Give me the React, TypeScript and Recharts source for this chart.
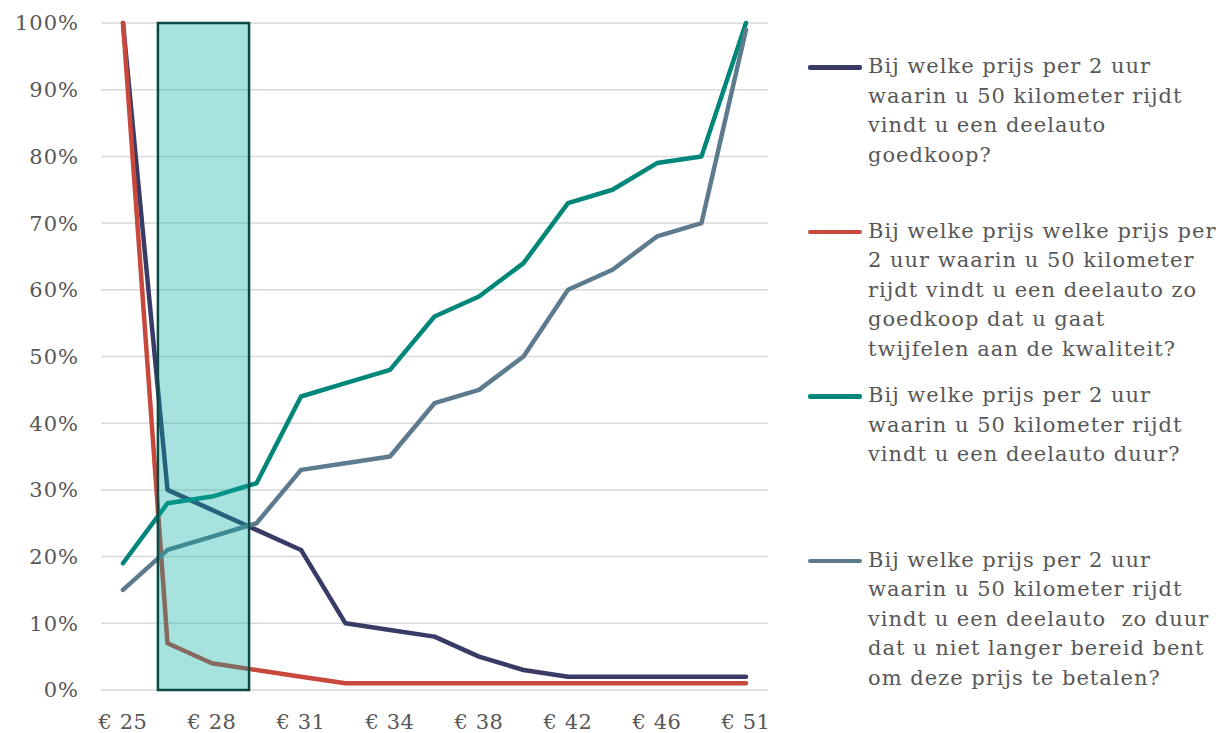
import { CartesianGrid, Line, LineChart, ReferenceArea, XAxis, YAxis } from "recharts"

const prices = [
  "€ 25", "€ 27", "€ 28", "€ 30", "€ 31", "€ 33", "€ 34", "€ 36",
  "€ 38", "€ 40", "€ 42", "€ 44", "€ 46", "€ 48", "€ 51",
]

const goedkoop = [100, 30, 27, 24, 21, 10, 9, 8, 5, 3, 2, 2, 2, 2, 2]
const teGoedkoop = [100, 7, 4, 3, 2, 1, 1, 1, 1, 1, 1, 1, 1, 1, 1]
const duur = [19, 28, 29, 31, 44, 46, 48, 56, 59, 64, 73, 75, 79, 80, 100]
const teDuur = [15, 21, 23, 25, 33, 34, 35, 43, 45, 50, 60, 63, 68, 70, 99]

const yTicks = [0, 10, 20, 30, 40, 50, 60, 70, 80, 90, 100]

// acceptable price range box, in category-index units
const boxFrom = 0.78
const boxTo = 2.83

const series = [
  {
    key: "goedkoop",
    color: "#383B66",
    lines: ["Bij welke prijs per 2 uur", "waarin u 50 kilometer rijdt", "vindt u een deelauto", "goedkoop?"],
  },
  {
    key: "teGoedkoop",
    color: "#C9483C",
    lines: [
      "Bij welke prijs welke prijs per",
      "2 uur waarin u 50 kilometer",
      "rijdt vindt u een deelauto zo",
      "goedkoop dat u gaat",
      "twijfelen aan de kwaliteit?",
    ],
  },
  {
    key: "duur",
    color: "#00877A",
    lines: ["Bij welke prijs per 2 uur", "waarin u 50 kilometer rijdt", "vindt u een deelauto duur?"],
  },
  {
    key: "teDuur",
    color: "#5E7A8E",
    lines: [
      "Bij welke prijs per 2 uur",
      "waarin u 50 kilometer rijdt",
      "vindt u een deelauto  zo duur",
      "dat u niet langer bereid bent",
      "om deze prijs te betalen?",
    ],
  },
]

const data = prices.map((price, i) => ({
  price,
  idx: i,
  goedkoop: goedkoop[i],
  teGoedkoop: teGoedkoop[i],
  duur: duur[i],
  teDuur: teDuur[i],
}))

const font = "'DejaVu Serif', serif"
const textColor = "#575757"

export default function App() {
  return (
    <div style={{ position: "fixed", left: 0, top: 0, width: 1221, height: 733, background: "#fff", fontFamily: font }}>
      <LineChart width={1221} height={733} data={data} margin={{ top: 23, right: 453, bottom: 0, left: 0 }}>
        <CartesianGrid vertical={false} stroke="#D9D9D9" strokeWidth={1.5} />
        <XAxis
          dataKey="price"
          interval={1}
          height={43}
          padding={{ left: 22, right: 22 }}
          axisLine={false}
          tickLine={false}
          tickSize={0}
          tickMargin={24}
          tick={{ fill: textColor, fontSize: 21, fontFamily: font, letterSpacing: 0.5 }}
        />
        <XAxis xAxisId="box" dataKey="idx" type="number" domain={[-0.5, 14.5]} allowDataOverflow hide />
        <YAxis
          width={101}
          domain={[0, 100]}
          ticks={yTicks}
          tickFormatter={(v) => `${v}%`}
          axisLine={false}
          tickLine={false}
          tickSize={0}
          tickMargin={22}
          tick={{ fill: textColor, fontSize: 21, fontFamily: font, letterSpacing: 1 }}
        />
        {series.map((s) => (
          <Line
            key={s.key}
            dataKey={s.key}
            stroke={s.color}
            strokeWidth={4.5}
            strokeLinecap="round"
            strokeLinejoin="round"
            dot={false}
            activeDot={false}
            isAnimationActive={false}
          />
        ))}
        <ReferenceArea
          xAxisId="box"
          x1={boxFrom}
          x2={boxTo}
          y1={0}
          y2={100}
          fill="#06ABA3"
          fillOpacity={0.35}
          stroke="#0B4A44"
          strokeWidth={2.5}
          strokeOpacity={1}
          zIndex={600}
        />
      </LineChart>
      <div style={{ position: "absolute", left: 806, top: 52 }}>
        {series.map((s) => (
          <div key={s.key} style={{ position: "relative", height: 164.5 }}>
            <div
              style={{
                position: "absolute",
                left: 2,
                top: 13,
                width: 54,
                height: 4.5,
                borderRadius: 2,
                background: s.color,
              }}
            />
            <div
              style={{
                position: "absolute",
                left: 62,
                top: 0,
                fontSize: 21,
                lineHeight: "29.5px",
                letterSpacing: 1,
                color: textColor,
                whiteSpace: "pre",
              }}
            >
              {s.lines.join("\n")}
            </div>
          </div>
        ))}
      </div>
    </div>
  )
}
